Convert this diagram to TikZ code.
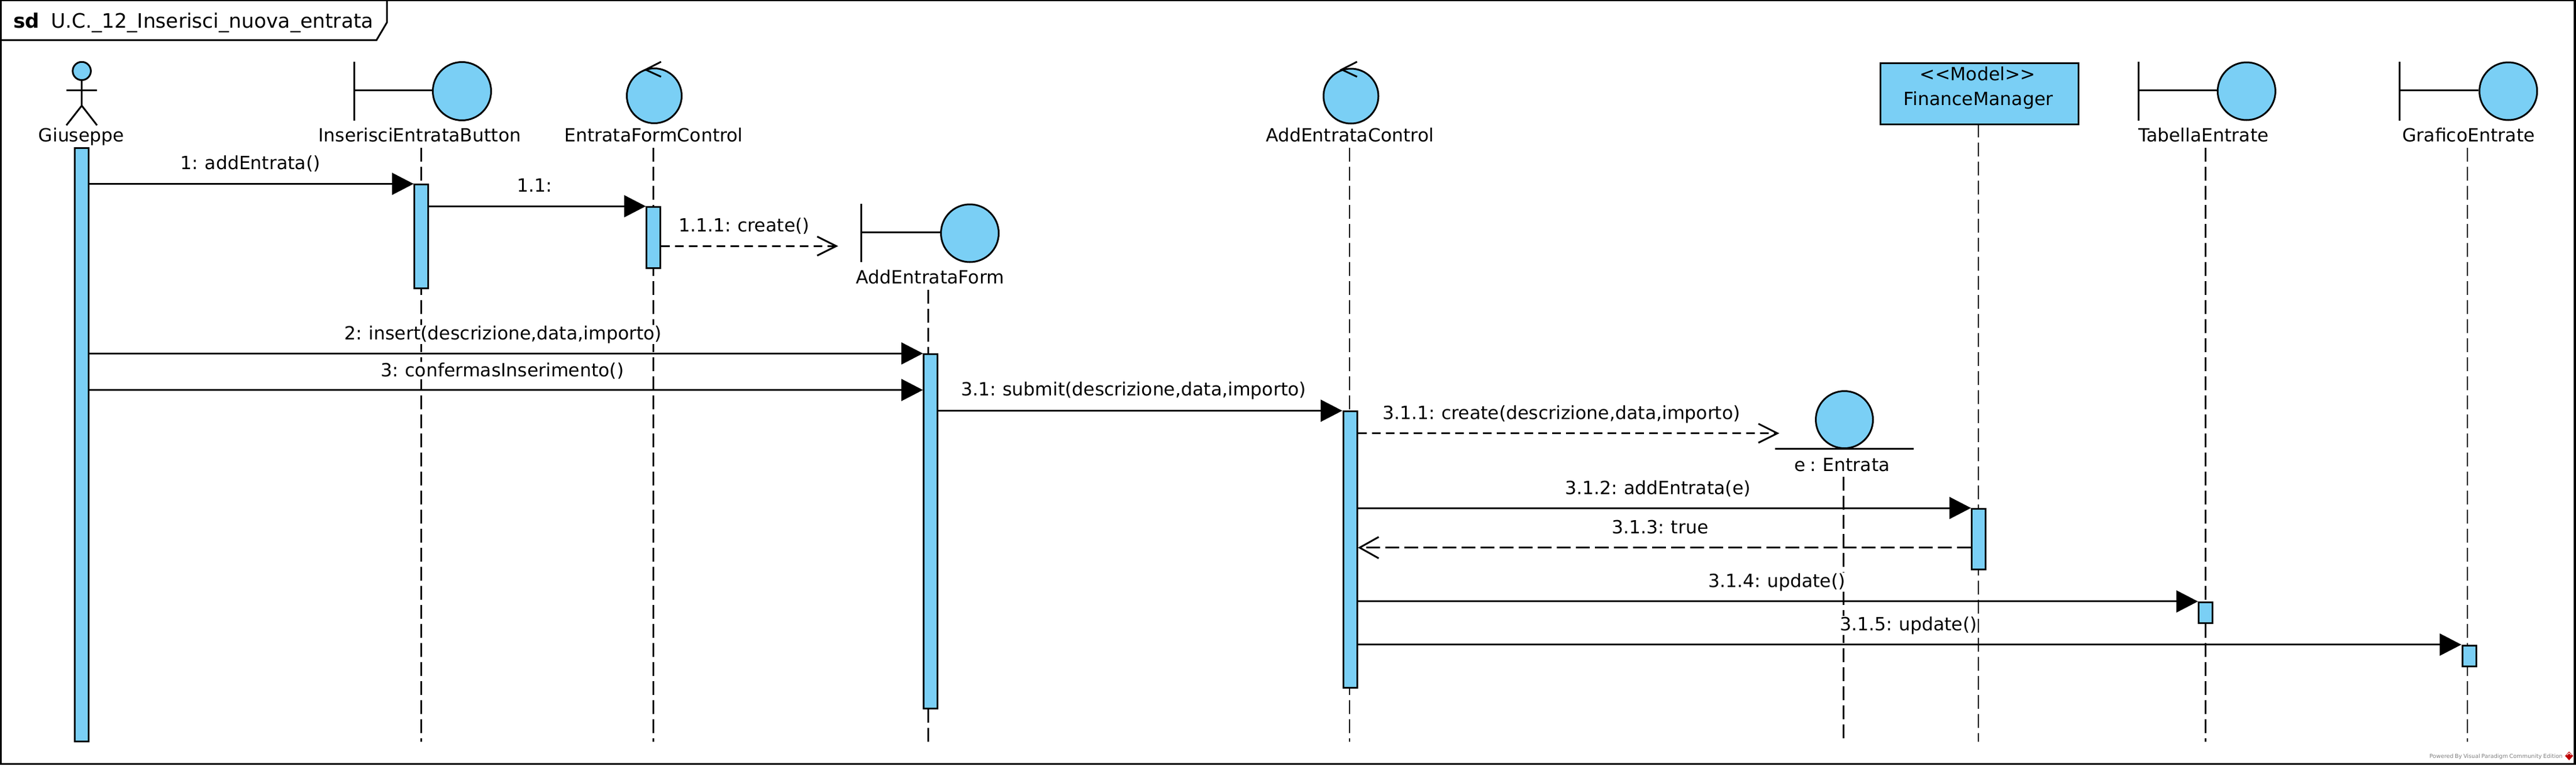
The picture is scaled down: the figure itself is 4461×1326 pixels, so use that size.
\documentclass[tikz,border=0pt]{standalone}
\usepackage{fontspec}
\setmainfont[WordSpace=0.8]{DejaVu Sans}
\usetikzlibrary{arrows.meta}
\definecolor{vpblue}{HTML}{7ACFF5}
\tikzset{
  x=1pt,y=-1pt,
  every node/.style={font=\fontsize{31.5}{36}\selectfont,text=black},
  outline/.style={draw=black,line width=3pt},
  lifeline/.style={draw=black,line width=2.8pt,dash pattern=on 24pt off 9pt},
  actbar/.style={draw=black,fill=vpblue,line width=3pt,rectangle,inner sep=0pt,minimum width=24pt},
  head/.style={circle,draw=black,fill=vpblue,line width=3pt,inner sep=0pt},
  ptext/.style={anchor=base,inner sep=0pt},
  mtext/.style={anchor=base,inner sep=1pt,fill=white},
  call/.style={draw=black,line width=3pt,-{Triangle[length=37.5pt,width=38pt]}},
  create/.style={draw=black,line width=3pt,dash pattern=on 15pt off 9pt,-{Straight Barb[length=33pt,width=33pt,line width=3pt]}},
  reply/.style={draw=black,line width=3pt,dash pattern=on 24pt off 9pt,-{Straight Barb[length=33pt,width=37pt,line width=3pt]}},
}
\begin{document}
\begin{tikzpicture}
\useasboundingbox (0,0) rectangle (4461,1326);
% frame
\draw[line width=3.2pt] (1.5,0.8) rectangle (4459,1323.5);
\draw[line width=3pt,line join=miter] (670,0.8) -- (670,39) -- (652,69.5) -- (1.5,69.5);
\node[anchor=base west,inner sep=0pt,font=\fontsize{34.5}{40}\selectfont\bfseries] (sdkey) at (23,48) {sd};
\node[anchor=base west,inner sep=0pt,font=\fontsize{34.5}{40}\selectfont] (sdname) at (88,48) {U.C.\_12\_Inserisci\_nuova\_entrata};

% lifeline ends
\coordinate (lBt) at (729.6,256);   \coordinate (lBb) at (729.6,1285);
\coordinate (lCt) at (1131.4,256);  \coordinate (lCb) at (1131.4,1285);
\coordinate (lFt) at (1607.3,502);  \coordinate (lFb) at (1607.3,1285);
\coordinate (lAt) at (2337,256);    \coordinate (lAb) at (2337,1285);
\coordinate (lEt) at (3192.5,826);  \coordinate (lEb) at (3192.5,1280);
\coordinate (lMt) at (3426,214);    \coordinate (lMb) at (3426,1285);
\coordinate (lTt) at (3819.5,256);  \coordinate (lTb) at (3819.5,1285);
\coordinate (lGt) at (4273,256);    \coordinate (lGb) at (4273,1285);
\draw[lifeline] (lBt) -- (lBb);
\draw[lifeline] (lCt) -- (lCb);
\draw[lifeline] (lFt) -- (lFb);
\draw[lifeline] (lAt) -- (lAb);
\draw[lifeline] (lEt) -- (lEb);
\draw[lifeline] (lMt) -- (lMb);
\draw[lifeline] (lTt) -- (lTb);
\draw[lifeline] (lGt) -- (lGb);

% Giuseppe
\node[head,minimum size=31.5pt] (gHead) at (141.6,123) {};
\coordinate (gNeck) at (141.6,156); \coordinate (gHip) at (141.6,183);
\coordinate (gArmL) at (115,156);   \coordinate (gArmR) at (168,156);
\coordinate (gLegL) at (115,217);   \coordinate (gLegR) at (168,217);
\draw[outline] (gHead.south) -- (gHip);
\draw[outline] (gArmL) -- (gArmR);
\draw[outline] (gLegL) -- (gHip) -- (gLegR);
\node[ptext] (gName) at (141,245) {Giuseppe};

% InserisciEntrataButton
\coordinate (bBarT) at (613,107); \coordinate (bBarB) at (613,209); \coordinate (bBarM) at (613,156);
\node[head,minimum size=101pt] (bHead) at (800,158) {};
\draw[outline] (bBarT) -- (bBarB);
\draw[outline] (bBarM) -- (bHead.west |- bBarM);
\node[ptext] (bName) at (727,245) {InserisciEntrataButton};

% EntrataFormControl
\node[head,minimum size=95pt] (cHead) at (1133,166) {};
\coordinate (cTip) at (1118,120.7); \coordinate (cUp) at (1144.8,107); \coordinate (cDn) at (1144.8,133);
\draw[outline] (cUp) -- (cTip) -- (cDn);
\node[ptext] (cName) at (1132,245) {EntrataFormControl};

% AddEntrataForm
\coordinate (fBarT) at (1491,353); \coordinate (fBarB) at (1491,454); \coordinate (fBarM) at (1491,402);
\node[head,minimum size=100pt] (fHead) at (1679.5,404) {};
\draw[outline] (fBarT) -- (fBarB);
\draw[outline] (fBarM) -- (fHead.west |- fBarM);
\node[ptext] (fName) at (1611,491) {AddEntrataForm};

% AddEntrataControl
\node[head,minimum size=95pt] (aHead) at (2339.5,166.5) {};
\coordinate (aTip) at (2323.4,120.5); \coordinate (aUp) at (2350,107); \coordinate (aDn) at (2350,133);
\draw[outline] (aUp) -- (aTip) -- (aDn);
\node[ptext] (aName) at (2337.5,245) {AddEntrataControl};

% e : Entrata
\node[head,minimum size=99pt] (eHead) at (3194,727) {};
\coordinate (eL) at (3074,777.3); \coordinate (eR) at (3314.4,777.3);
\draw[outline] (eL) -- (eR);
\node[ptext] (eName) at (3190,816) {e : Entrata};

% FinanceManager
\node[actbar,minimum width=343pt,minimum height=106pt,anchor=north west] (mBox) at (3255,108) {};
\node[ptext] (mStereo) at (3425,139.7) {<{}<Model>{}>};
\node[ptext] (mName) at (3426,182) {FinanceManager};

% TabellaEntrate
\coordinate (tBarT) at (3703,107); \coordinate (tBarB) at (3703,209); \coordinate (tBarM) at (3703,156);
\node[head,minimum size=100pt] (tHead) at (3890.4,158) {};
\draw[outline] (tBarT) -- (tBarB);
\draw[outline] (tBarM) -- (tHead.west |- tBarM);
\node[ptext] (tName) at (3816,245) {TabellaEntrate};

% GraficoEntrate
\coordinate (xBarT) at (4155.5,107); \coordinate (xBarB) at (4155.5,209); \coordinate (xBarM) at (4155.5,156);
\node[head,minimum size=100pt] (xHead) at (4343.7,158) {};
\draw[outline] (xBarT) -- (xBarB);
\draw[outline] (xBarM) -- (xHead.west |- xBarM);
\node[ptext] (xName) at (4275,245) {GraficoEntrate};

% activations
\node[actbar,minimum height=1028pt,anchor=north] (aG) at (141.6,255) {};
\node[actbar,minimum height=180pt,anchor=north] (aB) at (729.8,318) {};
\node[actbar,minimum height=106pt,anchor=north] (aC) at (1131.8,357.3) {};
\node[actbar,minimum height=614pt,anchor=north] (aF) at (1611.8,612) {};
\node[actbar,minimum height=478.5pt,anchor=north] (aA) at (2338,711) {};
\node[actbar,minimum height=105pt,anchor=north] (aM) at (3426.8,880) {};
\node[actbar,minimum height=36.5pt,anchor=north] (aT) at (3819.8,1041.7) {};
\node[actbar,minimum height=36.5pt,anchor=north] (aX) at (4276,1116.5) {};

% message rows
\coordinate (r1) at (0,318.5);
\coordinate (r11) at (0,357.3);
\coordinate (r111) at (0,426.3);
\coordinate (r2) at (0,612.3);
\coordinate (r3) at (0,675.6);
\coordinate (r31) at (0,711.5);
\coordinate (r311) at (0,750.6);
\coordinate (r312) at (0,880);
\coordinate (r313) at (0,948.7);
\coordinate (r314) at (0,1041.9);
\coordinate (r315) at (0,1116.7);
\coordinate (createTip) at (1451.5,426.3);
\coordinate (entrataTip) at (3081.4,750.6);

\draw[call] (aG.east |- r1) -- (aB.west |- r1);
\draw[call] (aB.east |- r11) -- (aC.west |- r11);
\draw[create] (aC.east |- r111) -- (createTip);
\draw[call] (aG.east |- r2) -- (aF.west |- r2);
\draw[call] (aG.east |- r3) -- (aF.west |- r3);
\draw[call] (aF.east |- r31) -- (aA.west |- r31);
\draw[create] (aA.east |- r311) -- (entrataTip);
\draw[call] (aA.east |- r312) -- (aM.west |- r312);
\draw[reply] (aM.west |- r313) -- (aA.east |- r313);
\draw[call] (aA.east |- r314) -- (aT.west |- r314);
\draw[call] (aA.east |- r315) -- (aX.west |- r315);

% message labels
\node[mtext] (t1) at (433.7,293) {1: addEntrata()};
\node[mtext] (t11) at (926,332) {1.1:};
\node[mtext] (t111) at (1288.6,401.7) {1.1.1: create()};
\node[mtext] (t2) at (871.5,588) {2: insert(descrizione,data,importo)};
\node[mtext] (t3) at (870,652) {3: confermasInserimento()};
\node[mtext] (t31) at (1963,685.6) {3.1: submit(descrizione,data,importo)};
\node[mtext] (t311) at (2704,726.4) {3.1.1: create(descrizione,data,importo)};
\node[mtext] (t312) at (2871,856) {3.1.2: addEntrata(e)};
\node[mtext] (t313) at (2875,924) {3.1.3: true};
\node[mtext] (t314) at (3077,1017) {3.1.4: update()};
\node[mtext] (t315) at (3305,1092) {3.1.5: update()};

% watermark
\node[anchor=base east,inner sep=0pt,text=black!50,font=\fontsize{9.7}{11}\selectfont] (wm) at (4438,1313) {Powered By Visual Paradigm Community Edition};
\coordinate (lgT) at (4449,1302); \coordinate (lgR) at (4456,1309.5); \coordinate (lgB) at (4449,1317); \coordinate (lgL) at (4442,1309.5);
\draw[fill=red!75!black,draw=none] (lgT) -- (lgR) -- (lgB) -- (lgL) -- cycle;
\draw[white,line width=1pt] (4445,1308) -- (4449,1304.5) -- (4453,1308);
\end{tikzpicture}
\end{document}
